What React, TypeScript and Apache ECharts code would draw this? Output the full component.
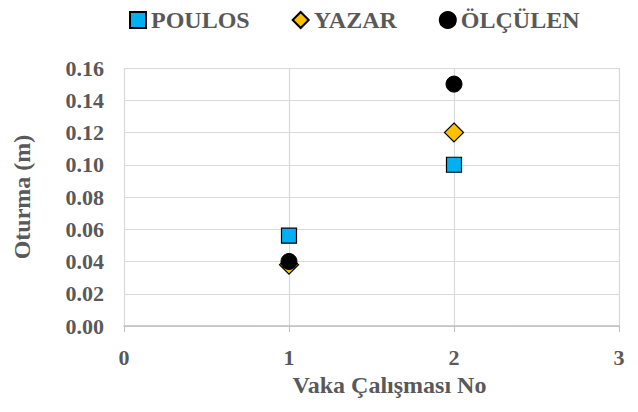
import React, { useEffect, useRef } from "react";
import * as echarts from "echarts";

const seriesNames = ["POULOS", "YAZAR", "ÖLÇÜLEN"];
const caseNo = [1, 2];
const poulos = [0.056, 0.1];
const yazar = [0.038, 0.12];
const olculen = [0.04, 0.15];

const FONT = "'Liberation Serif', 'Times New Roman', serif";
const GRAY = "#595959";

export default function App() {
  const ref = useRef<HTMLDivElement>(null);
  useEffect(() => {
    if (!ref.current) return;
    const chart = echarts.init(ref.current, undefined, { renderer: "svg" });
    const mk = (vals: number[]) => caseNo.map((x, i) => [x, vals[i]]);
    chart.setOption({
      animation: false,
      textStyle: { fontFamily: FONT },
      legend: {
        top: 3,
        left: 124,
        itemGap: 42,
        itemWidth: 16,
        itemHeight: 16,
        textStyle: { fontFamily: FONT, fontWeight: "bold", fontSize: 24, color: GRAY },
        data: [
          { name: seriesNames[0], icon: "rect" },
          { name: seriesNames[1], icon: "diamond" },
          { name: seriesNames[2], icon: "circle" },
        ],
      },
      grid: { left: 124, right: 19, top: 68, bottom: 86, containLabel: false },
      xAxis: {
        type: "value",
        min: 0,
        max: 3,
        interval: 1,
        name: "Vaka Çalışması No",
        nameLocation: "middle",
        nameGap: 41,
        nameTextStyle: { fontFamily: FONT, fontWeight: "bold", fontSize: 24, color: GRAY, padding: [0, 0, 0, 36] },
        axisLine: { show: true, lineStyle: { color: "#bfbfbf", width: 1.5 } },
        axisTick: { show: true, length: 6, lineStyle: { color: "#bfbfbf" } },
        axisLabel: { fontFamily: FONT, fontWeight: "bold", fontSize: 22, color: GRAY, margin: 20 },
        splitLine: { show: true, lineStyle: { color: "#d9d9d9", width: 1.2 } },
      },
      yAxis: {
        type: "value",
        min: 0,
        max: 0.16,
        interval: 0.02,
        name: "Oturma (m)",
        nameLocation: "middle",
        nameGap: 90,
        nameTextStyle: { fontFamily: FONT, fontWeight: "bold", fontSize: 24, color: GRAY },
        axisLine: { show: false },
        axisTick: { show: false },
        axisLabel: {
          fontFamily: FONT,
          fontWeight: "bold",
          fontSize: 22,
          color: GRAY,
          margin: 20,
          formatter: (v: number) => v.toFixed(2),
        },
        splitLine: { show: true, lineStyle: { color: "#d9d9d9", width: 1.2 } },
      },
      series: [
        {
          name: seriesNames[0],
          type: "scatter",
          symbol: "rect",
          symbolSize: 15,
          data: mk(poulos),
          itemStyle: { color: "#00b0f0", borderColor: "#000", borderWidth: 1.2, opacity: 1 },
        },
        {
          name: seriesNames[1],
          type: "scatter",
          symbol: "diamond",
          symbolSize: 19,
          data: mk(yazar),
          itemStyle: { color: "#ffc000", borderColor: "#000", borderWidth: 1.2, opacity: 1 },
        },
        {
          name: seriesNames[2],
          type: "scatter",
          symbol: "circle",
          symbolSize: 16,
          data: mk(olculen),
          itemStyle: { color: "#000000", borderColor: "#000", borderWidth: 1, opacity: 1 },
        },
      ],
    });
    return () => chart.dispose();
  }, []);
  return <div ref={ref} style={{ width: 638, height: 412, position: "absolute", left: 0, top: 0 }} />;
}
